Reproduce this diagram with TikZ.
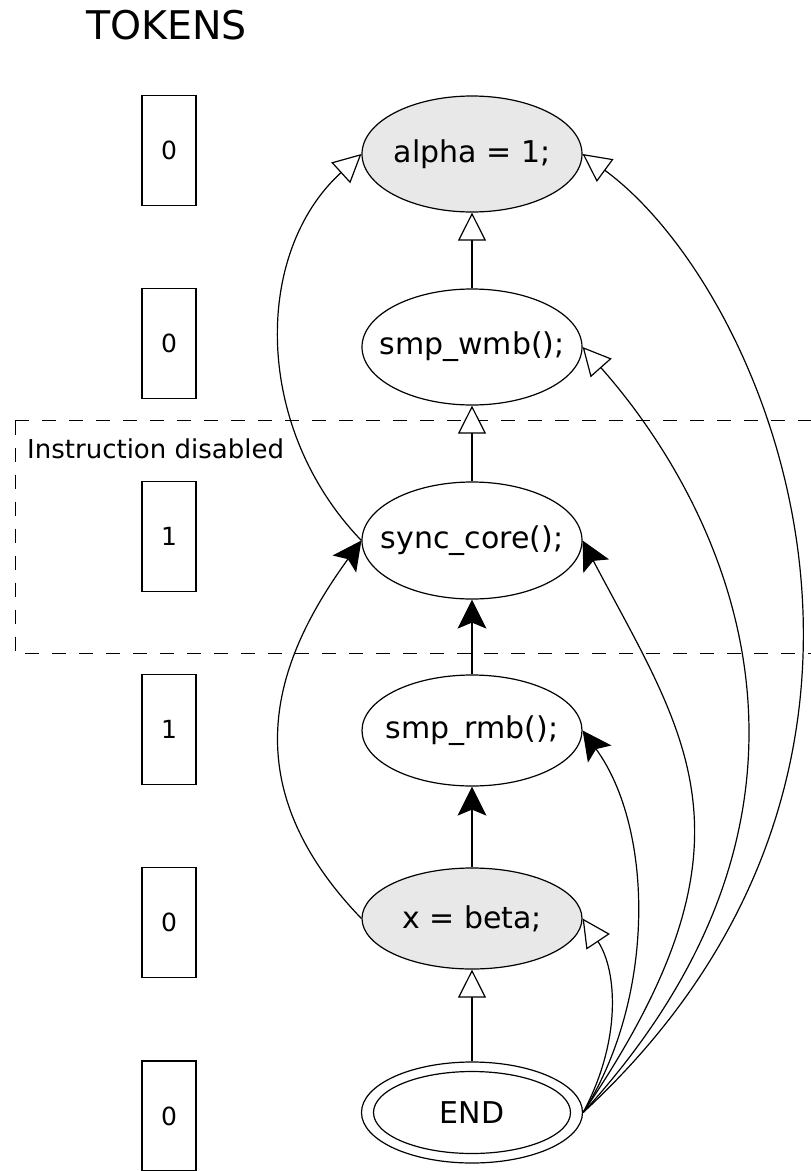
\documentclass[tikz,border=0pt]{standalone}
\usepackage{fontspec}
\setmainfont{DejaVu Sans}
\usetikzlibrary{arrows.meta,shapes.geometric}
\definecolor{nodegray}{RGB}{232,232,232}
\newcommand{\stmtlabel}[1]{\makebox[0pt]{#1}}
\tikzset{
  stmt/.style={ellipse, draw, line width=1.2pt, minimum width=220pt, minimum height=116pt,
    inner sep=0pt, font=\fontsize{30}{35}\selectfont},
  shaded/.style={stmt, fill=nodegray},
  tokenbox/.style={rectangle, draw, line width=1.2pt, minimum width=54pt, minimum height=110pt,
    inner sep=0pt, font=\fontsize{25}{30}\selectfont},
  openarr/.style={-{Triangle[length=28pt,width=28pt,fill=white]}, line width=1.2pt},
  fillarr/.style={-{Stealth[length=29pt,width=29pt,inset=6pt]}, line width=1.2pt},
}
\begin{document}
\begin{tikzpicture}[x=1pt,y=-1pt]
\useasboundingbox (0,0) rectangle (811,1171);

% title
\node[anchor=base west, inner sep=0pt, font=\fontsize{39.5}{46}\selectfont] (title) at (86,39) {TOKENS};

% disabled region (its right side runs past the page edge)
\draw[line width=1pt, dash pattern=on 14pt off 13pt] (15,420.5) -- (830,420.5);
\draw[line width=1pt, dash pattern=on 14pt off 13pt] (15,420.5) -- (15,653.5) -- (830,653.5);
\node[anchor=base west, inner sep=0pt, font=\fontsize{26}{31}\selectfont] (dislabel) at (27,458) {Instruction disabled};

% token counters
\node[tokenbox] (t1) at (169,150.5) {0};
\node[tokenbox] (t2) at (169,343.5) {0};
\node[tokenbox] (t3) at (169,536.5) {1};
\node[tokenbox] (t4) at (169,729.5) {1};
\node[tokenbox] (t5) at (169,922.5) {0};
\node[tokenbox] (t6) at (169,1116) {0};

% statements
\node[shaded] (alpha) at (472,154) {\stmtlabel{alpha = 1;}};
\node[stmt] (wmb) at (472,347) {\stmtlabel{smp\_wmb();}};
\node[stmt, minimum height=117pt] (sync) at (472,540.5) {\stmtlabel{sync\_core();}};
\node[stmt, minimum height=111pt] (rmb) at (472,730.5) {\stmtlabel{smp\_rmb();}};
\node[shaded, minimum height=101pt] (xbeta) at (472,918.5) {\stmtlabel{x = beta;}};
\node[ellipse, draw, line width=1.2pt, minimum width=221pt, minimum height=101pt, inner sep=0pt] (end) at (472,1112.5) {};
\node[ellipse, draw, line width=1.2pt, minimum width=197pt, minimum height=82pt, inner sep=0pt,
  font=\fontsize{30}{35}\selectfont] (endin) at (end) {\stmtlabel{END}};

% program order
\draw[openarr] (wmb.north) -- (alpha.south);
\draw[openarr] (sync.north) -- (wmb.south);
\draw[fillarr] (rmb.north) -- (sync.south);
\draw[fillarr] (xbeta.north) -- (rmb.south);
\draw[openarr] (end.north) -- (xbeta.south);

% left-hand dependencies
\draw[openarr] (sync.west) .. controls (253,428) and (253,253) .. (alpha.west);
\draw[fillarr] (xbeta.west) .. controls (228,780) and (277,657) .. (sync.west);

% dependencies leaving END
\draw[openarr] (end.east) .. controls (622,1040) and (617,970) .. (xbeta.east);
\draw[fillarr] (end.east) .. controls (655,1000) and (655,830) .. (rmb.east);
\draw[fillarr] (end.east) .. controls (768,841) and (688,740) .. (sync.east);
\draw[openarr] (end.east) .. controls (878,790) and (712,493) .. (wmb.east);
\draw[openarr] (end.east) .. controls (965,760) and (768,290) .. (alpha.east);
\end{tikzpicture}
\end{document}
